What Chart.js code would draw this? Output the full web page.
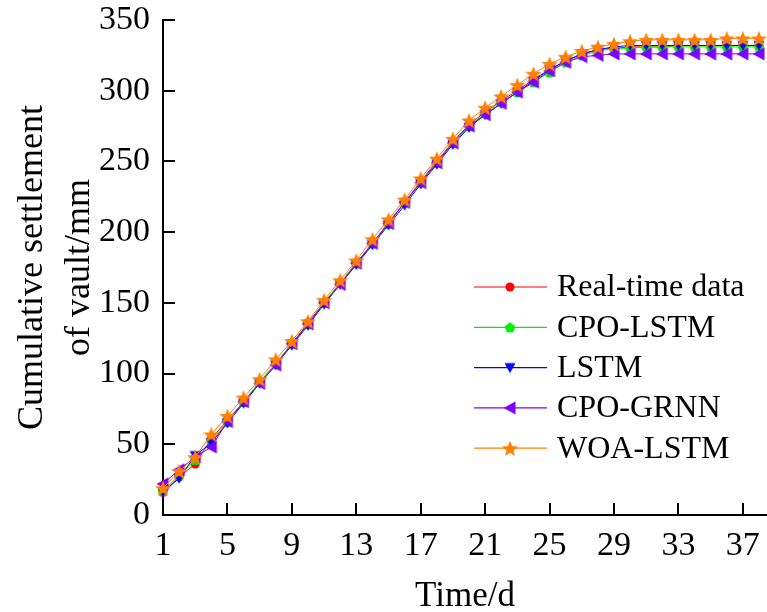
<!DOCTYPE html>
<html lang="en">
<head>
<meta charset="UTF-8">
<title>Cumulative settlement of vault</title>
<script src="https://cdn.jsdelivr.net/npm/chart.js"></script>
<style>
    body {
        margin: 0;
        padding: 0;
        background: #fff;
    }
    .chart-box {
        width: 767px;
        height: 612px;
    }
</style>
</head>
<body>
<div class="chart-box">
    <canvas id="settlementChart" width="767" height="612"></canvas>
</div>
<script>
// Days
const days = [1, 2, 3, 4, 5, 6, 7, 8, 9, 10, 11, 12, 13, 14, 15, 16, 17, 18, 19, 20,
    21, 22, 23, 24, 25, 26, 27, 28, 29, 30, 31, 32, 33, 34, 35, 36, 37, 38];

// Cumulative settlement (mm)
const realTime = [16, 27, 36, 54, 67, 80, 94, 107, 121, 136, 150, 164, 178, 192, 207, 221, 236, 250, 264, 276,
    285, 293, 300, 308, 315, 321, 326, 329, 330, 331, 331, 331, 332, 332, 332, 332, 332, 332];
const cpoLstm = [17, 28, 39, 52, 66, 80, 94, 107, 121, 135, 150, 164, 178, 192, 206, 221, 235, 249, 263, 275,
    284, 292, 299, 306, 313, 320, 325, 328, 330, 330, 331, 331, 331, 331, 331, 331, 331, 331];
const lstm = [16, 26, 42, 51, 65, 79, 93, 106, 120, 134, 149, 163, 177, 191, 205, 219, 234, 248, 262, 274,
    283, 291, 299, 307, 315, 321, 326, 329, 331, 332, 332, 332, 332, 332, 332, 332, 332, 332];
const cpoGrnn = [22, 32, 41, 48, 66, 80, 93, 106, 121, 135, 150, 163, 178, 192, 206, 221, 235, 249, 263, 275,
    283, 291, 299, 306, 314, 320, 324, 325, 326, 326, 326, 326, 326, 326, 326, 326, 326, 326];
const woaLstm = [19, 31, 41, 57, 70, 83, 96, 110, 123, 137, 152, 166, 180, 195, 209, 223, 238, 252, 266, 279,
    288, 296, 304, 312, 319, 324, 328, 331, 333, 335, 336, 336, 336, 336, 336, 337, 337, 337];

const seriesNames = ['Real-time data', 'CPO-LSTM', 'LSTM', 'CPO-GRNN', 'WOA-LSTM'];
const xTickValues = [1, 5, 9, 13, 17, 21, 25, 29, 33, 37];
const yTickValues = [0, 50, 100, 150, 200, 250, 300, 350];

const FONT = '"Liberation Serif", "Times New Roman", serif';

// little marker pictures, used as pointStyle
function makeMarker(shape, color, size) {
    const c = document.createElement('canvas');
    c.width = size;
    c.height = size;
    const g = c.getContext('2d');
    const m = size / 2;
    const r = size / 2 - 0.5;
    g.fillStyle = color;
    g.beginPath();
    if (shape === 'circle') {
        g.arc(m, m, r, 0, Math.PI * 2);
    } else if (shape === 'pentagon') {
        for (let i = 0; i < 5; i++) {
            const a = -Math.PI / 2 + i * 2 * Math.PI / 5;
            g.lineTo(m + r * Math.cos(a), m + 0.6 + r * Math.sin(a));
        }
    } else if (shape === 'down') {
        g.moveTo(0.5, 1.5);
        g.lineTo(size - 0.5, 1.5);
        g.lineTo(m, size - 0.5);
    } else if (shape === 'left') {
        g.moveTo(0.5, m);
        g.lineTo(size - 1.5, 0.5);
        g.lineTo(size - 1.5, size - 0.5);
    } else if (shape === 'star') {
        for (let i = 0; i < 10; i++) {
            const a = -Math.PI / 2 + i * Math.PI / 5;
            const rr = i % 2 === 0 ? r : r * 0.42;
            g.lineTo(m + rr * Math.cos(a), m + 0.9 + rr * Math.sin(a));
        }
    }
    g.closePath();
    g.fill();
    return c;
}

const colors = ['#ff0000', '#00ee00', '#0000ff', '#8000ff', '#ff7f00'];
const markers = [
    makeMarker('circle', colors[0], 10),
    makeMarker('pentagon', colors[1], 12),
    makeMarker('down', colors[2], 12),
    makeMarker('left', colors[3], 14),
    makeMarker('star', colors[4], 18)
];
const allSeries = [realTime, cpoLstm, lstm, cpoGrnn, woaLstm];

const datasets = allSeries.map((vals, i) => ({
    label: seriesNames[i],
    data: days.map((d, j) => ({x: d, y: vals[j]})),
    borderColor: colors[i],
    backgroundColor: colors[i],
    borderWidth: 1,
    pointStyle: markers[i],
    pointRadius: 6,
    tension: 0,
    clip: false,
    order: 4 - i
}));

// inward tick marks
const innerTicks = {
    id: 'innerTicks',
    afterDraw(chart) {
        const {ctx, chartArea: a, scales: {x, y}} = chart;
        ctx.save();
        ctx.strokeStyle = '#000';
        ctx.lineWidth = 2;
        ctx.beginPath();
        xTickValues.forEach(v => {
            if (v === x.min) return;
            const px = Math.round(x.getPixelForValue(v));
            ctx.moveTo(px, a.bottom);
            ctx.lineTo(px, a.bottom - 12);
        });
        yTickValues.forEach(v => {
            if (v === y.min) return;
            const py = Math.round(y.getPixelForValue(v));
            ctx.moveTo(a.left, py);
            ctx.lineTo(a.left + 12, py);
        });
        ctx.stroke();
        ctx.restore();
    }
};

// legend with line + marker inside the plot
const lineLegend = {
    id: 'lineLegend',
    afterDraw(chart) {
        const ctx = chart.ctx;
        ctx.save();
        ctx.font = '32px ' + FONT;
        ctx.textBaseline = 'middle';
        ctx.fillStyle = '#000';
        chart.data.datasets.forEach((ds, i) => {
            const yy = 287 + i * 40.3;
            ctx.strokeStyle = ds.borderColor;
            ctx.lineWidth = 1.2;
            ctx.beginPath();
            ctx.moveTo(474, yy);
            ctx.lineTo(547, yy);
            ctx.stroke();
            const img = ds.pointStyle;
            ctx.drawImage(img, 510 - img.width / 2, yy - img.height / 2);
            ctx.fillText(ds.label, 557, yy + 1);
        });
        ctx.restore();
    }
};

const ctx = document.getElementById('settlementChart').getContext('2d');
new Chart(ctx, {
    type: 'line',
    data: {datasets: datasets},
    options: {
        responsive: false,
        animation: false,
        layout: {autoPadding: false, padding: {top: 20, right: 0, left: 0, bottom: 0}},
        plugins: {
            legend: {display: false},
            tooltip: {enabled: false}
        },
        scales: {
            x: {
                type: 'linear',
                min: 1,
                max: 38.5,
                afterBuildTicks: s => { s.ticks = xTickValues.map(v => ({value: v})); },
                afterFit: s => {
                    s.height = 97;
                    s.paddingLeft = 0;
                    s.paddingRight = 0;
                },
                grid: {display: false, drawTicks: false},
                border: {display: true, color: '#000', width: 2},
                ticks: {
                    color: '#000',
                    padding: 11,
                    maxRotation: 0,
                    font: {family: FONT, size: 34, lineHeight: 1.2}
                },
                title: {
                    display: true,
                    text: 'Time/d',
                    color: '#000',
                    padding: {top: 0, bottom: 0},
                    font: {family: FONT, size: 35, lineHeight: 0.86}
                }
            },
            y: {
                min: 0,
                max: 350,
                afterBuildTicks: s => { s.ticks = yTickValues.map(v => ({value: v})); },
                afterFit: s => {
                    s.width = 163;
                    s.paddingTop = 0;
                    s.paddingBottom = 0;
                },
                grid: {display: false, drawTicks: false},
                border: {display: true, color: '#000', width: 2},
                ticks: {
                    color: '#000',
                    padding: 13,
                    font: {family: FONT, size: 34, lineHeight: 1.2}
                },
                title: {
                    display: true,
                    text: ['Cumulative settlement', 'of vault/mm'],
                    color: '#000',
                    padding: {top: 10, bottom: 0},
                    font: {family: FONT, size: 36, lineHeight: 1.28}
                }
            }
        }
    },
    plugins: [innerTicks, lineLegend]
});
</script>
</body>
</html>
